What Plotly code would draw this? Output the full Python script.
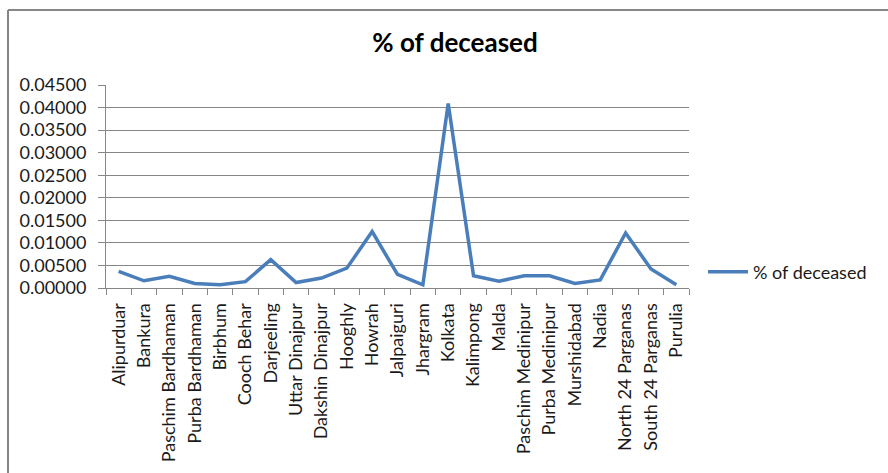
import plotly.graph_objects as go

districts = ["Alipurduar", "Bankura", "Paschim Bardhaman", "Purba Bardhaman", "Birbhum",
             "Cooch Behar", "Darjeeling", "Uttar Dinajpur", "Dakshin Dinajpur", "Hooghly",
             "Howrah", "Jalpaiguri", "Jhargram", "Kolkata", "Kalimpong", "Malda",
             "Paschim Medinipur", "Purba Medinipur", "Murshidabad", "Nadia",
             "North 24 Parganas", "South 24 Parganas", "Purulia"]
pct_deceased = [0.0037, 0.0016, 0.0026, 0.0010, 0.0007,
                0.0014, 0.0063, 0.0012, 0.0022, 0.0044,
                0.0125, 0.0030, 0.0007, 0.0409, 0.0027, 0.0015,
                0.0027, 0.0027, 0.0010, 0.0018,
                0.0122, 0.0042, 0.0007]
y_ticks = [0, 0.005, 0.01, 0.015, 0.02, 0.025, 0.03, 0.035, 0.04, 0.045]

W, H = 888, 473
L, R, T, B = 106, 199, 85, 185
pw, ph = W - L - R, H - T - B

def px(x):
    return (x - L) / pw

def py(y):
    return (H - B - y) / ph

FONT = "Lato, Carlito, 'Open Sans', sans-serif"

fig = go.Figure()
fig.add_trace(go.Scatter(
    x=districts, y=pct_deceased, mode="lines", name="% of deceased",
    line=dict(color="#4A7EBB", width=3.5),
))

fig.update_layout(
    width=W, height=H,
    margin=dict(l=L, r=R, t=T, b=B),
    paper_bgcolor="white", plot_bgcolor="white",
    font=dict(family=FONT, size=18, color="#1a1a1a"),
    title=dict(text="<b>% of deceased</b>", x=(455) / W, xanchor="center",
               y=1 - 43 / H, yanchor="middle", font=dict(size=26, color="black")),
    showlegend=True,
    legend=dict(x=px(703), xanchor="left", y=py(272), yanchor="middle",
                font=dict(size=18), bgcolor="rgba(0,0,0,0)", itemwidth=40),
    xaxis=dict(
        type="category", tickangle=-90, showgrid=False,
        showline=True, linecolor="#868686", linewidth=1,
        ticks="outside", tickson="boundaries", ticklen=6, tickcolor="#868686",
        ticklabelstandoff=7,
        range=[-0.5, len(districts) - 0.5], fixedrange=True,
    ),
    yaxis=dict(
        range=[0, 0.045], tickvals=y_ticks, tickformat=".5f",
        showgrid=True, gridcolor="#868686", gridwidth=1,
        showline=True, linecolor="#868686", linewidth=1,
        ticks="outside", ticklen=7, tickcolor="#868686",
        ticklabelstandoff=8,
        zeroline=False, fixedrange=True,
    ),
    shapes=[
        dict(type="line", xref="paper", yref="paper", x0=px(8), x1=px(890),
             y0=py(10), y1=py(10), line=dict(color="#868686", width=2)),
        dict(type="line", xref="paper", yref="paper", x0=px(8), x1=px(8),
             y0=py(10), y1=py(475), line=dict(color="#868686", width=2)),
    ],
)

fig.write_html("out.html")
